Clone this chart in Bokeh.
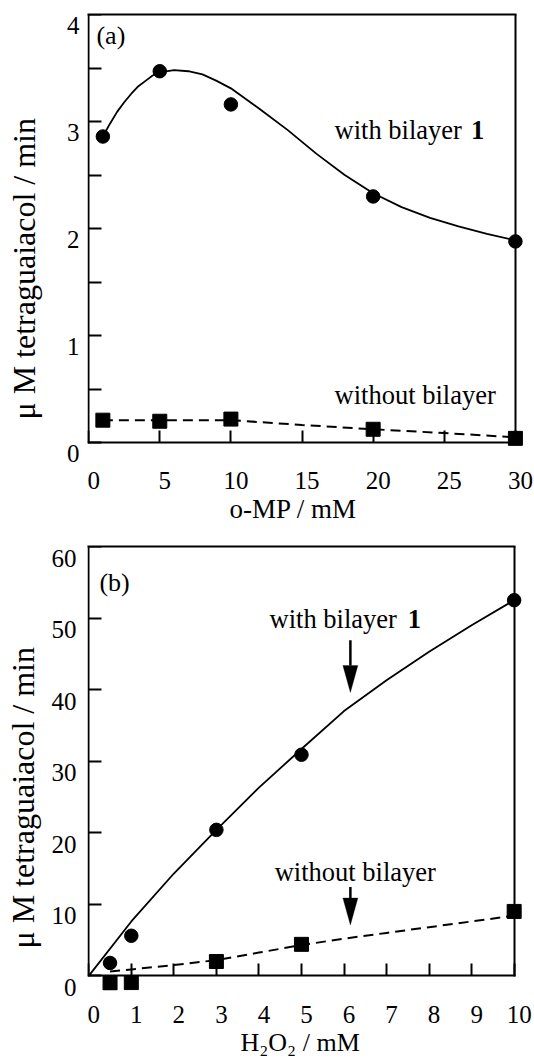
from bokeh.plotting import figure
from bokeh.layouts import column
from bokeh.models import (Range1d, LinearAxis, FixedTicker, Label, Title,
                          PolyAnnotation, Arrow, CustomJSTickFormatter)
from bokeh.embed import file_html
from bokeh.resources import INLINE

FONT = "Liberation Serif"

# ---------------- panel (a) data ----------------
a_omp = [1, 5, 10, 20, 30]
a_with_bilayer = [2.86, 3.47, 3.16, 2.30, 1.88]
a_without_bilayer = [0.21, 0.20, 0.22, 0.125, 0.04]
a_fit_x = [1.0, 1.5, 2.0, 2.5, 3.0, 3.5, 4.0, 4.5, 5.0, 6.0, 7.0, 8.0, 9.0, 10,
           12, 14, 16, 18, 20, 22, 24, 26, 28, 30]
a_fit_y = [2.86, 2.98, 3.09, 3.18, 3.26, 3.33, 3.38, 3.43, 3.46, 3.48, 3.47, 3.44, 3.38, 3.31,
           3.12, 2.92, 2.70, 2.50, 2.33, 2.20, 2.10, 2.02, 1.95, 1.89]
a_dash_x = [1, 5, 10, 15, 20, 25, 30]
a_dash_y = [0.21, 0.21, 0.21, 0.165, 0.125, 0.09, 0.05]
a_xticks = [0, 5, 10, 15, 20, 25, 30]
a_yticks = [0, 1, 2, 3, 4]
a_yminor = [0.5, 1.5, 2.5, 3.5]

# ---------------- panel (b) data ----------------
b_h2o2 = [0.5, 1, 3, 5, 10]
b_with_bilayer = [1.8, 5.6, 20.4, 30.9, 52.5]
b_without_bilayer = [-1.0, -0.95, 2.0, 4.4, 9.0]
b_fit_x = [0, 1, 2, 3, 4, 5, 6, 7, 8, 9, 10]
b_fit_y = [0, 7.6, 14.3, 20.4, 26.3, 31.7, 37.0, 41.3, 45.3, 49.0, 52.5]
b_dash_x = [0.5, 1, 2, 3, 4, 5, 6, 7, 8, 9, 10]
b_dash_y = [0.6, 0.9, 1.5, 2.2, 3.25, 4.3, 5.2, 6.0, 6.8, 7.6, 8.4]
b_xticks = [0, 1, 2, 3, 4, 5, 6, 7, 8, 9, 10]
b_yticks = [0, 10, 20, 30, 40, 50, 60]
b_arrow_x = [6.15, 6.15]
b_arrow_top = [46.9, 12.4]
b_arrow_tip = [39.6, 7.1]

Y_TITLE = "\u03bc M tetraguaiacol / min"
A_X_TITLE = "o-MP / mM"
B_X_TITLE = "H\u2082O\u2082 / mM"


def no_marks(ax):
    ax.major_tick_in = 0
    ax.major_tick_out = 0
    ax.minor_tick_in = 0
    ax.minor_tick_out = 0
    ax.major_tick_line_color = None
    ax.minor_tick_line_color = None


def no_labels(ax):
    ax.formatter = CustomJSTickFormatter(code="return ''")
    ax.major_label_text_font_size = "0px"
    ax.major_label_standoff = 0


def frame_line(ax):
    ax.axis_line_width = 2
    ax.axis_line_color = "black"
    ax.axis_line_cap = "square"


def build(fw, fh, xr, yr, bl, br, bt, bb, xticks, yticks, yminor, xmax, ytop,
          ylab_shift, xlab_shift, ylab_standoff, xlab_standoff, ytitle_gap,
          yt_offset, xt_text, xt_offset, xt_size):
    p = figure(frame_width=fw, frame_height=fh, x_range=Range1d(*xr), y_range=Range1d(*yr),
               x_axis_location=None, y_axis_location=None, toolbar_location=None,
               output_backend="svg", min_border_left=bl, min_border_right=br,
               min_border_top=bt, min_border_bottom=bb,
               background_fill_color="white", border_fill_color="white")
    p.outline_line_color = None
    p.xgrid.grid_line_color = None
    p.ygrid.grid_line_color = None

    # ranges used only to nudge tick labels (down / right) as in the original print
    dy = ylab_shift * (yr[1] - yr[0]) / fh
    dx = xlab_shift * (xr[1] - xr[0]) / fw
    p.extra_y_ranges = {"lab": Range1d(yr[0] + dy, yr[1] + dy)}
    p.extra_x_ranges = {"lab": Range1d(xr[0] - dx, xr[1] - dx)}

    # --- tick-label axes (sit in the side panels) ---
    ly = LinearAxis(y_range_name="lab", ticker=FixedTicker(ticks=yticks, minor_ticks=[]))
    no_marks(ly)
    ly.axis_line_color = None
    ly.major_label_text_font = FONT
    ly.major_label_text_font_size = "25px"
    ly.major_label_text_color = "black"
    ly.major_label_standoff = ylab_standoff
    # blank axis label used only as a spacer before the title
    ly.axis_label = " "
    ly.axis_label_text_font_size = "1px"
    ly.axis_label_standoff = ytitle_gap
    p.add_layout(ly, "left")

    lx = LinearAxis(x_range_name="lab", ticker=FixedTicker(ticks=xticks, minor_ticks=[]))
    no_marks(lx)
    lx.axis_line_color = None
    lx.major_label_text_font = FONT
    lx.major_label_text_font_size = "25px"
    lx.major_label_text_color = "black"
    lx.major_label_standoff = xlab_standoff
    p.add_layout(lx, "below")

    # --- frame lines with inward ticks ---
    vy = LinearAxis(ticker=FixedTicker(ticks=yticks, minor_ticks=yminor), fixed_location=0,
                    bounds=(0, ytop))
    no_labels(vy)
    frame_line(vy)
    vy.major_tick_in = 13
    vy.major_tick_out = 0
    vy.minor_tick_in = 13
    vy.minor_tick_out = 0
    vy.major_tick_line_width = 2
    vy.minor_tick_line_width = 2
    p.add_layout(vy, "left")

    vx = LinearAxis(ticker=FixedTicker(ticks=xticks, minor_ticks=[]), fixed_location=0,
                    bounds=(0, xmax))
    no_labels(vx)
    frame_line(vx)
    vx.major_tick_in = 12
    vx.major_tick_out = 0
    vx.minor_tick_in = 0
    vx.minor_tick_out = 0
    vx.major_tick_line_width = 2
    p.add_layout(vx, "below")

    rr = LinearAxis(ticker=FixedTicker(ticks=[], minor_ticks=[]), fixed_location=xmax,
                    bounds=(0, ytop))
    no_marks(rr)
    no_labels(rr)
    frame_line(rr)
    p.add_layout(rr, "right")

    tt = LinearAxis(ticker=FixedTicker(ticks=[], minor_ticks=[]), bounds=(0, xmax))
    no_marks(tt)
    no_labels(tt)
    frame_line(tt)
    p.add_layout(tt, "above")

    # --- axis titles ---
    p.add_layout(Title(text=Y_TITLE, align="left", offset=yt_offset, standoff=0,
                       text_font=FONT, text_font_size="32px", text_font_style="normal",
                       text_color="black"), "left")
    p.add_layout(Title(text=xt_text, align="left", offset=xt_offset, standoff=0,
                       text_font=FONT, text_font_size=xt_size, text_font_style="normal",
                       text_color="black"), "below")
    return p


def txt(p, x, y, s, align="left", baseline="alphabetic", size="26.5px", style="normal"):
    p.add_layout(Label(x=x, y=y, text=s, text_align=align, text_baseline=baseline,
                       text_font=FONT, text_font_size=size, text_font_style=style,
                       text_color="black"))


# ================= panel (a) =================
pa = build(441, 441, (-0.08, 30.92), (-0.12, 4), bl=85, br=8, bt=14, bb=77,
           xticks=a_xticks, yticks=a_yticks, yminor=a_yminor, xmax=30, ytop=4,
           ylab_shift=10.5, xlab_shift=5, ylab_standoff=8, xlab_standoff=16, ytitle_gap=18,
           yt_offset=36, xt_text=A_X_TITLE, xt_offset=142, xt_size="27px")

pa.line(a_fit_x, a_fit_y, line_color="black", line_width=1.8)
pa.line(a_dash_x, a_dash_y, line_color="black", line_width=2, line_dash="10 6")
pa.scatter(a_omp, a_with_bilayer, marker="circle", size=13.5, fill_color="black", line_color="black")
pa.scatter(a_omp, a_without_bilayer, marker="square", size=14, fill_color="black", line_color="black")

txt(pa, 0.55, 3.80, "(a)", baseline="middle", size="26px")
txt(pa, 17.29, 2.92, "with bilayer")
txt(pa, 26.88, 2.92, "1", style="bold")
txt(pa, 17.29, 0.445, "without bilayer")

# ================= panel (b) =================
B_FW, B_FH = 439, 444
B_XR = (-0.03, 10.29)
B_YR = (-2.05, 60)
pb = build(B_FW, B_FH, B_XR, B_YR, bl=87, br=8, bt=14, bb=74,
           xticks=b_xticks, yticks=b_yticks, yminor=[], xmax=10, ytop=60,
           ylab_shift=11.5, xlab_shift=5, ylab_standoff=11, xlab_standoff=15, ytitle_gap=4,
           yt_offset=42, xt_text=B_X_TITLE, xt_offset=153, xt_size="26px")

pb.line(b_fit_x, b_fit_y, line_color="black", line_width=1.8)
pb.line(b_dash_x, b_dash_y, line_color="black", line_width=2, line_dash="10 6")
pb.scatter(b_h2o2, b_with_bilayer, marker="circle", size=13.5, fill_color="black", line_color="black")
pb.scatter(b_h2o2, b_without_bilayer, marker="square", size=14, fill_color="black", line_color="black")

txt(pb, 0.25, 55.0, "(b)", baseline="middle", size="26px")
txt(pb, 4.25, 49.9, "with bilayer")
txt(pb, 7.50, 49.9, "1", style="bold")
txt(pb, 4.37, 14.57, "without bilayer")

px_x = B_FW / (B_XR[1] - B_XR[0])
px_y = B_FH / (B_YR[1] - B_YR[0])
head_len = 27 / px_y
head_half = 7.5 / px_x
for ax, top, tip in zip(b_arrow_x, b_arrow_top, b_arrow_tip):
    base = tip + head_len
    pb.add_layout(Arrow(x_start=ax, y_start=top, x_end=ax, y_end=base, end=None,
                        line_color="black", line_width=2.5))
    pb.add_layout(PolyAnnotation(xs=[ax - head_half, ax + head_half, ax],
                                 ys=[base, base, tip], fill_color="black", fill_alpha=1,
                                 line_color="black", line_width=1))

layout = column(pa, pb, spacing=0)
open("out.html", "w").write(file_html(layout, INLINE))
